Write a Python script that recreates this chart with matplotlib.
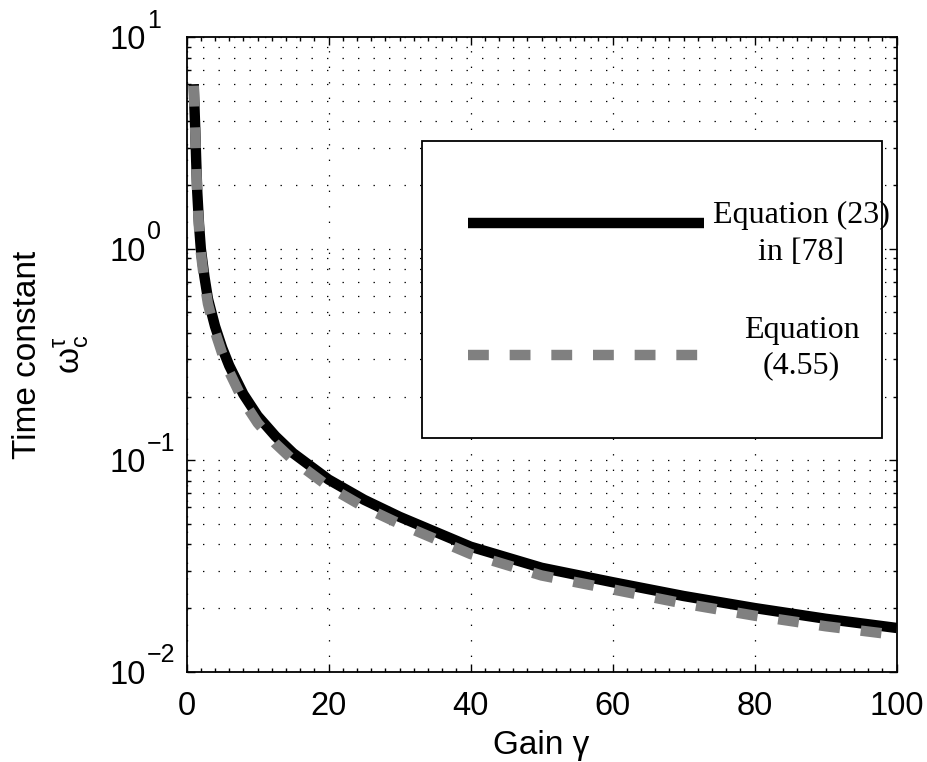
import matplotlib
matplotlib.use("Agg")
import matplotlib.pyplot as plt
from matplotlib.patches import Rectangle
from matplotlib.ticker import LogLocator, MultipleLocator, FixedFormatter, NullFormatter
import numpy as np

plt.rcParams['font.family'] = ['Liberation Sans', 'DejaVu Sans']
plt.rcParams['mathtext.fontset'] = 'custom'
plt.rcParams['mathtext.rm'] = 'Liberation Sans'
plt.rcParams['mathtext.it'] = 'Liberation Sans:italic'
plt.rcParams['mathtext.bf'] = 'Liberation Sans:bold'

# values
gain = [1, 1.1, 1.2, 1.35, 1.5, 1.75, 2, 2.5, 3, 4, 5, 6, 8, 10, 12.5, 15,
        20, 25, 30, 40, 50, 60, 70, 80, 90, 100]
tau_eq23 = [6.0, 4.7, 3.8, 2.6, 1.85, 1.3, 1.0, 0.74, 0.58, 0.43, 0.34, 0.28,
            0.205, 0.162, 0.13, 0.108, 0.081, 0.065, 0.054, 0.039, 0.031,
            0.0265, 0.0228, 0.0200, 0.0178, 0.0161]
tau_eq455 = [5.9, 4.6, 3.7, 2.5, 1.78, 1.25, 0.96, 0.70, 0.55, 0.405, 0.32,
             0.262, 0.19, 0.15, 0.12, 0.10, 0.075, 0.06, 0.05, 0.036, 0.0285,
             0.0245, 0.021, 0.0184, 0.0164, 0.0149]

ytick_vals = [1e-2, 1e-1, 1e0, 1e1]
ytick_exps = ["\u22122", "\u22121", "0", "1"]

label_eq23 = "Equation (23)\nin [78]"
label_eq455 = "Equation\n(4.55)"

fig = plt.figure(figsize=(9.28, 7.62), dpi=100)
ax = fig.add_axes([0.2011, 0.1185, 0.7651, 0.8326])

ax.plot(gain, tau_eq23, color='black', lw=7.5, solid_capstyle='butt', zorder=3)
ax.plot(gain, tau_eq455, color='#808080', lw=7.5, dashes=(2, 2),
        dash_capstyle='butt', zorder=4)

ax.set_yscale('log')
ax.set_xlim(0, 100)
ax.set_ylim(1e-2, 1e1)
ax.xaxis.set_major_locator(MultipleLocator(20))
ax.xaxis.set_minor_locator(MultipleLocator(2))
ax.set_yticks(ytick_vals)
ax.yaxis.set_major_formatter(FixedFormatter(["10"] * len(ytick_vals)))
ax.yaxis.set_minor_locator(LogLocator(base=10, subs=np.arange(2, 10)))
ax.yaxis.set_minor_formatter(NullFormatter())

# MATLAB style exponents next to the "10"
for v, e in zip(ytick_vals, ytick_exps):
    ax.annotate(e, xy=(0, v), xycoords=('axes fraction', 'data'),
                xytext=(-28.4, 7.0), textcoords='offset points',
                ha='left', va='baseline', fontsize=18)

grid_style = dict(color='black', lw=0.9, linestyle=(0, (1.1, 11.3)))
ax.grid(True, which='major', axis='x', **grid_style)
ax.grid(True, which='both', axis='y', **grid_style)

for s in ax.spines.values():
    s.set_linewidth(1.3)
ax.tick_params(which='both', direction='in', top=True, right=True, width=1.0)
ax.tick_params(which='major', length=6, labelsize=23.5)
ax.tick_params(which='minor', length=3)
ax.tick_params(axis='x', which='major', pad=14)
ax.tick_params(axis='y', which='major', pad=29)

ax.set_xlabel("Gain γ", fontsize=24, labelpad=6)
ax.set_ylabel("Time constant\nω$_\\mathregular{c}^\\mathregular{τ}$",
              fontsize=24, multialignment='center', linespacing=1.3)
ax.yaxis.set_label_coords(-0.135, 0.5)

# legend box drawn by hand, MATLAB style
ax.add_patch(Rectangle((0.331, 0.369), 0.649, 0.468, transform=ax.transAxes,
                       facecolor='white', edgecolor='black', lw=1.3, zorder=5))
ax.plot([0.397, 0.729], [0.7066, 0.7066], transform=ax.transAxes,
        color='black', lw=7.5, solid_capstyle='butt', zorder=6)
ax.plot([0.397, 0.729], [0.4985, 0.4985], transform=ax.transAxes,
        color='#808080', lw=7.5, dashes=(2, 2), dash_capstyle='butt', zorder=6)
ax.text(0.866, 0.69, label_eq23, transform=ax.transAxes, ha='center',
        va='center', multialignment='center', fontsize=23,
        family=['Liberation Serif'], zorder=7, linespacing=1.35)
ax.text(0.866, 0.51, label_eq455, transform=ax.transAxes, ha='center',
        va='center', multialignment='center', fontsize=23,
        family=['Liberation Serif'], zorder=7, linespacing=1.25)

fig.savefig("out.png", dpi=100)
